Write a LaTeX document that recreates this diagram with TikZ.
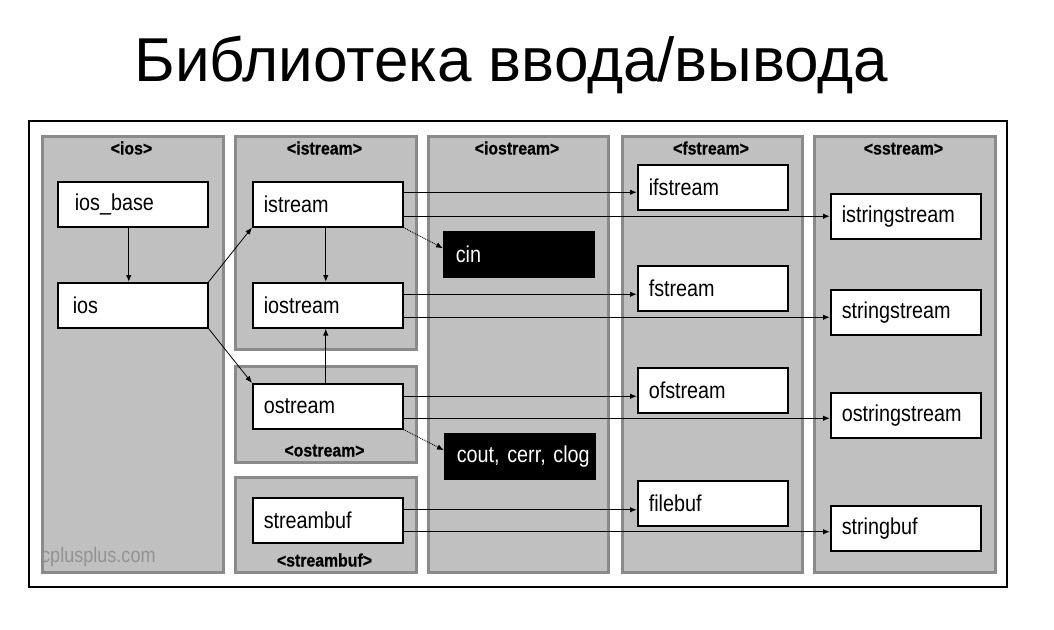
\documentclass[tikz,border=0pt]{standalone}
\usepackage{fontspec}
\setmainfont{Liberation Sans}
\newfontfamily\boxfont[FakeStretch=0.86]{Liberation Sans}
\newfontfamily\hdrfont[FakeStretch=0.88,FakeBold=0.6]{Liberation Sans Bold}
\usetikzlibrary{arrows.meta,calc}
\definecolor{panelgray}{RGB}{192,192,192}
\definecolor{paneledge}{RGB}{138,138,138}
\definecolor{wmark}{RGB}{146,146,146}
\begin{document}
\begin{tikzpicture}[x=1pt,y=-1pt,
  frame/.style={draw=black, fill=white, line width=1.6pt, anchor=north west, inner sep=0pt},
  panel/.style={draw=paneledge, fill=panelgray, line width=2.6pt, anchor=north west, inner sep=0pt},
  box/.style={draw=black, fill=white, line width=1.5pt, anchor=north west,
    minimum width=150pt, minimum height=45pt, text width=128pt, inner xsep=11pt,
    inner ysep=0pt, align=left, font=\boxfont\fontsize{23}{25}\selectfont},
  dark/.style={box, fill=black, text=white, text width=126pt, inner xsep=12pt},
  hdr/.style={font=\hdrfont\fontsize{18}{20}\selectfont, inner sep=0pt, anchor=base},
  arr/.style={line width=1.3pt, -{Latex[length=7pt,width=5.5pt]}},
  thinarr/.style={line width=0.8pt, -{Latex[length=7pt,width=5.5pt]}},
  dotarr/.style={line width=0.9pt, densely dotted, -{Latex[length=7pt,width=5.5pt]}}
]
\useasboundingbox (0,0) rectangle (1054,629);
\fill[white] (0,0) rectangle (1054,629);

% title
\node[anchor=base, inner sep=0pt, font=\fontsize{62}{70}\selectfont] (title) at (511.5,81) {Библиотека ввода/вывода};

% outer frame
\node[frame, minimum width=978pt, minimum height=466pt] (frm) at (28,120) {};

% panels
\node[panel, minimum width=181pt, minimum height=436pt] (pios) at (41,135) {};
\node[panel, minimum width=181pt, minimum height=213pt] (pistream) at (234,135) {};
\node[panel, minimum width=181pt, minimum height=96pt] (postream) at (234,365) {};
\node[panel, minimum width=181pt, minimum height=95pt] (pstreambuf) at (234,476) {};
\node[panel, minimum width=180pt, minimum height=436pt] (piostream) at (427,135) {};
\node[panel, minimum width=180pt, minimum height=436pt] (pfstream) at (621,135) {};
\node[panel, minimum width=181pt, minimum height=436pt] (psstream) at (813,135) {};

% panel headers
\node[hdr] (hios) at (131.5,154.5) {<ios>};
\node[hdr] (histream) at (324.5,154.5) {<istream>};
\node[hdr] (hostream) at (324.5,456.5) {<ostream>};
\node[hdr] (hstreambuf) at (324.5,566.5) {<streambuf>};
\node[hdr] (hiostream) at (517,154.5) {<iostream>};
\node[hdr] (hfstream) at (711,154.5) {<fstream>};
\node[hdr] (hsstream) at (903.5,154.5) {<sstream>};
\node[anchor=base west, inner sep=0pt, text=wmark, font=\boxfont\fontsize{21}{22}\selectfont] (wm) at (41,562) {cplusplus.com};

% class boxes
\node[box, inner xsep=17pt, text width=116pt] (iosbase) at (57,181) {ios\_base};
\node[box, inner xsep=15pt, text width=120pt] (ios) at (57,282) {ios};
\node[box] (istream) at (252,181) {istream};
\node[box] (iostreamn) at (252,282) {iostream};
\node[box] (ostream) at (252,383) {ostream};
\node[box] (streambuf) at (252,497) {streambuf};
\node[dark] (cin) at (443,231) {cin};
\node[dark] (cout) at (444,433) {\rlap{cout, cerr, clog}};
\node[box] (ifstream) at (637,164) {ifstream};
\node[box] (fstream) at (637,265) {fstream};
\node[box] (ofstream) at (637,367) {ofstream};
\node[box] (filebuf) at (637,480) {filebuf};
\node[box] (istrs) at (830,193) {istringstream};
\node[box] (strs) at (830,289) {stringstream};
\node[box] (ostrs) at (830,392) {ostringstream};
\node[box] (strbuf) at (830,505) {stringbuf};

% source points of horizontal arrows
\coordinate (is1) at ([yshift=12pt]istream.east);
\coordinate (is2) at ([yshift=-12pt]istream.east);
\coordinate (io1) at ([yshift=11pt]iostreamn.east);
\coordinate (io2) at ([yshift=-12pt]iostreamn.east);
\coordinate (os1) at ([yshift=10pt]ostream.east);
\coordinate (os2) at ([yshift=-12pt]ostream.east);
\coordinate (sb1) at ([yshift=10.5pt]streambuf.east);
\coordinate (sb2) at ([yshift=-11.5pt]streambuf.east);

% connectors
\draw[arr] ([xshift=-4pt]iosbase.south) -- ([xshift=-4pt]ios.north);
\draw[thinarr] (ios.north east) -- (istream.south west);
\draw[thinarr] (ios.south east) -- (ostream.north west);
\draw[arr] ([xshift=-2pt]istream.south) -- ([xshift=-2pt]iostreamn.north);
\draw[arr] ([xshift=-2pt]ostream.north) -- ([xshift=-2pt]iostreamn.south);

\draw[arr] (is1) -- (ifstream.west |- is1);
\draw[arr] (is2) -- (istrs.west |- is2);
\draw[arr] (io1) -- (fstream.west |- io1);
\draw[arr] (io2) -- (strs.west |- io2);
\draw[arr] (os1) -- (ofstream.west |- os1);
\draw[arr] (os2) -- (ostrs.west |- os2);
\draw[arr] (sb1) -- (filebuf.west |- sb1);
\draw[arr] (sb2) -- (strbuf.west |- sb2);

\draw[dotarr] (istream.south east) -- ([yshift=6pt]cin.west);
\draw[dotarr] (ostream.south east) -- ([yshift=6pt]cout.west);
\end{tikzpicture}
\end{document}
